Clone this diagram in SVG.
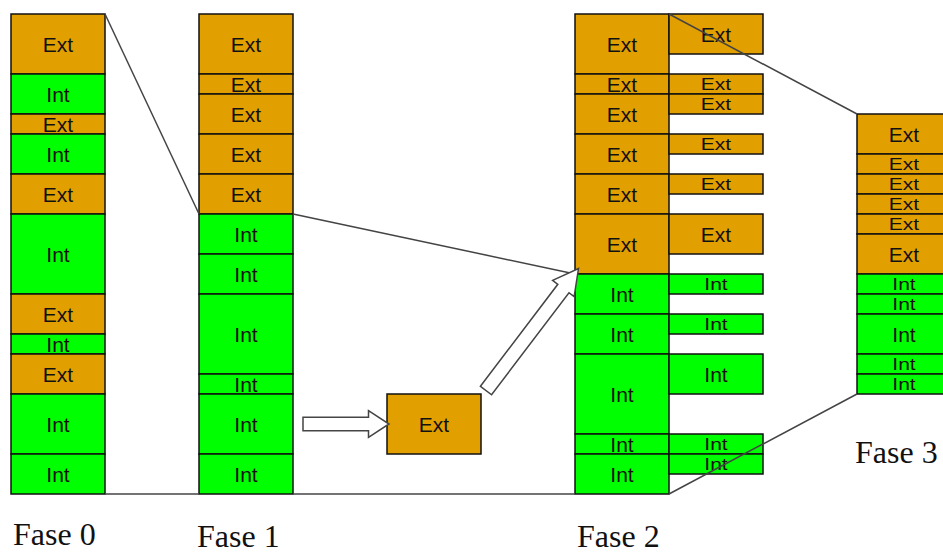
<svg xmlns="http://www.w3.org/2000/svg" width="943" height="554" viewBox="0 0 943 554">
  <style>
    .ext { fill: #E1A000; stroke: #111; stroke-width: 1.5; }
    .int { fill: #00FF00; stroke: #111; stroke-width: 1.5; }
    .lbl { font-family: "Liberation Sans", Arial, sans-serif; font-size: 21px; fill: #111; text-anchor: middle; dominant-baseline: central; }
    .fase { font-family: "Liberation Serif", "Times New Roman", serif; font-size: 32px; fill: #111; }
    .link { stroke: #444; stroke-width: 1.5; fill: none; }
    .block-arrow { fill: #fff; stroke: #444; stroke-width: 1.5; stroke-linejoin: miter; }
  </style>
  <rect width="943" height="554" fill="#fff"/>

  <!-- Fase 0 -->
  <g id="fase0">
    <g id="f0-b1"><rect class="ext" x="11" y="14" width="94" height="60"/><text class="lbl" x="58" y="44">Ext</text></g>
    <g id="f0-b2"><rect class="int" x="11" y="74" width="94" height="40"/><text class="lbl" x="58" y="94">Int</text></g>
    <g id="f0-b3"><rect class="ext" x="11" y="114" width="94" height="20"/><text class="lbl" x="58" y="124">Ext</text></g>
    <g id="f0-b4"><rect class="int" x="11" y="134" width="94" height="40"/><text class="lbl" x="58" y="154">Int</text></g>
    <g id="f0-b5"><rect class="ext" x="11" y="174" width="94" height="40"/><text class="lbl" x="58" y="194">Ext</text></g>
    <g id="f0-b6"><rect class="int" x="11" y="214" width="94" height="80"/><text class="lbl" x="58" y="254">Int</text></g>
    <g id="f0-b7"><rect class="ext" x="11" y="294" width="94" height="40"/><text class="lbl" x="58" y="314">Ext</text></g>
    <g id="f0-b8"><rect class="int" x="11" y="334" width="94" height="20"/><text class="lbl" x="58" y="344">Int</text></g>
    <g id="f0-b9"><rect class="ext" x="11" y="354" width="94" height="40"/><text class="lbl" x="58" y="374">Ext</text></g>
    <g id="f0-b10"><rect class="int" x="11" y="394" width="94" height="60"/><text class="lbl" x="58" y="424">Int</text></g>
    <g id="f0-b11"><rect class="int" x="11" y="454" width="94" height="40"/><text class="lbl" x="58" y="474">Int</text></g>
  </g>

  <!-- Fase 1 -->
  <g id="fase1">
    <g id="f1-b1"><rect class="ext" x="199" y="14" width="94" height="60"/><text class="lbl" x="246" y="44">Ext</text></g>
    <g id="f1-b2"><rect class="ext" x="199" y="74" width="94" height="20"/><text class="lbl" x="246" y="84">Ext</text></g>
    <g id="f1-b3"><rect class="ext" x="199" y="94" width="94" height="40"/><text class="lbl" x="246" y="114">Ext</text></g>
    <g id="f1-b4"><rect class="ext" x="199" y="134" width="94" height="40"/><text class="lbl" x="246" y="154">Ext</text></g>
    <g id="f1-b5"><rect class="ext" x="199" y="174" width="94" height="40"/><text class="lbl" x="246" y="194">Ext</text></g>
    <g id="f1-b6"><rect class="int" x="199" y="214" width="94" height="40"/><text class="lbl" x="246" y="234">Int</text></g>
    <g id="f1-b7"><rect class="int" x="199" y="254" width="94" height="40"/><text class="lbl" x="246" y="274">Int</text></g>
    <g id="f1-b8"><rect class="int" x="199" y="294" width="94" height="80"/><text class="lbl" x="246" y="334">Int</text></g>
    <g id="f1-b9"><rect class="int" x="199" y="374" width="94" height="20"/><text class="lbl" x="246" y="384">Int</text></g>
    <g id="f1-b10"><rect class="int" x="199" y="394" width="94" height="60"/><text class="lbl" x="246" y="424">Int</text></g>
    <g id="f1-b11"><rect class="int" x="199" y="454" width="94" height="40"/><text class="lbl" x="246" y="474">Int</text></g>
  </g>

  <!-- Extracted block -->
  <g id="moved-ext"><rect class="ext" x="387" y="394" width="94" height="60"/><text class="lbl" x="434" y="424">Ext</text></g>

  <!-- Fase 2: main column -->
  <g id="fase2">
    <g id="f2-b1"><rect class="ext" x="575" y="14" width="94" height="60"/><text class="lbl" x="622" y="44">Ext</text></g>
    <g id="f2-b2"><rect class="ext" x="575" y="74" width="94" height="20"/><text class="lbl" x="622" y="84">Ext</text></g>
    <g id="f2-b3"><rect class="ext" x="575" y="94" width="94" height="40"/><text class="lbl" x="622" y="114">Ext</text></g>
    <g id="f2-b4"><rect class="ext" x="575" y="134" width="94" height="40"/><text class="lbl" x="622" y="154">Ext</text></g>
    <g id="f2-b5"><rect class="ext" x="575" y="174" width="94" height="40"/><text class="lbl" x="622" y="194">Ext</text></g>
    <g id="f2-b6"><rect class="ext" x="575" y="214" width="94" height="60"/><text class="lbl" x="622" y="244">Ext</text></g>
    <g id="f2-b7"><rect class="int" x="575" y="274" width="94" height="40"/><text class="lbl" x="622" y="294">Int</text></g>
    <g id="f2-b8"><rect class="int" x="575" y="314" width="94" height="40"/><text class="lbl" x="622" y="334">Int</text></g>
    <g id="f2-b9"><rect class="int" x="575" y="354" width="94" height="80"/><text class="lbl" x="622" y="394">Int</text></g>
    <g id="f2-b10"><rect class="int" x="575" y="434" width="94" height="20"/><text class="lbl" x="622" y="444">Int</text></g>
    <g id="f2-b11"><rect class="int" x="575" y="454" width="94" height="40"/><text class="lbl" x="622" y="474">Int</text></g>
  </g>

  <!-- Fase 2: side column (thin labels squeezed vertically) -->
  <g id="fase2-side">
    <g id="f2s-b1"><rect class="ext" x="669" y="14" width="94" height="40"/><text class="lbl" x="716" y="34">Ext</text></g>
    <g id="f2s-b2"><rect class="ext" x="669" y="74" width="94" height="20"/><text class="lbl" transform="translate(716,84) scale(1,0.8)">Ext</text></g>
    <g id="f2s-b3"><rect class="ext" x="669" y="94" width="94" height="20"/><text class="lbl" transform="translate(716,104) scale(1,0.8)">Ext</text></g>
    <g id="f2s-b4"><rect class="ext" x="669" y="134" width="94" height="20"/><text class="lbl" transform="translate(716,144) scale(1,0.8)">Ext</text></g>
    <g id="f2s-b5"><rect class="ext" x="669" y="174" width="94" height="20"/><text class="lbl" transform="translate(716,184) scale(1,0.8)">Ext</text></g>
    <g id="f2s-b6"><rect class="ext" x="669" y="214" width="94" height="40"/><text class="lbl" x="716" y="234">Ext</text></g>
    <g id="f2s-b7"><rect class="int" x="669" y="274" width="94" height="20"/><text class="lbl" transform="translate(716,284) scale(1,0.8)">Int</text></g>
    <g id="f2s-b8"><rect class="int" x="669" y="314" width="94" height="20"/><text class="lbl" transform="translate(716,324) scale(1,0.8)">Int</text></g>
    <g id="f2s-b9"><rect class="int" x="669" y="354" width="94" height="40"/><text class="lbl" x="716" y="374">Int</text></g>
    <g id="f2s-b10"><rect class="int" x="669" y="434" width="94" height="20"/><text class="lbl" transform="translate(716,444) scale(1,0.8)">Int</text></g>
    <g id="f2s-b11"><rect class="int" x="669" y="454" width="94" height="20"/><text class="lbl" transform="translate(716,464) scale(1,0.8)">Int</text></g>
  </g>

  <!-- Fase 3 (thin labels squeezed vertically) -->
  <g id="fase3">
    <g id="f3-b1"><rect class="ext" x="857" y="114" width="94" height="40"/><text class="lbl" x="904" y="134">Ext</text></g>
    <g id="f3-b2"><rect class="ext" x="857" y="154" width="94" height="20"/><text class="lbl" transform="translate(904,164) scale(1,0.8)">Ext</text></g>
    <g id="f3-b3"><rect class="ext" x="857" y="174" width="94" height="20"/><text class="lbl" transform="translate(904,184) scale(1,0.8)">Ext</text></g>
    <g id="f3-b4"><rect class="ext" x="857" y="194" width="94" height="20"/><text class="lbl" transform="translate(904,204) scale(1,0.8)">Ext</text></g>
    <g id="f3-b5"><rect class="ext" x="857" y="214" width="94" height="20"/><text class="lbl" transform="translate(904,224) scale(1,0.8)">Ext</text></g>
    <g id="f3-b6"><rect class="ext" x="857" y="234" width="94" height="40"/><text class="lbl" x="904" y="254">Ext</text></g>
    <g id="f3-b7"><rect class="int" x="857" y="274" width="94" height="20"/><text class="lbl" transform="translate(904,284) scale(1,0.8)">Int</text></g>
    <g id="f3-b8"><rect class="int" x="857" y="294" width="94" height="20"/><text class="lbl" transform="translate(904,304) scale(1,0.8)">Int</text></g>
    <g id="f3-b9"><rect class="int" x="857" y="314" width="94" height="40"/><text class="lbl" x="904" y="334">Int</text></g>
    <g id="f3-b10"><rect class="int" x="857" y="354" width="94" height="20"/><text class="lbl" transform="translate(904,364) scale(1,0.8)">Int</text></g>
    <g id="f3-b11"><rect class="int" x="857" y="374" width="94" height="20"/><text class="lbl" transform="translate(904,384) scale(1,0.8)">Int</text></g>
  </g>

  <!-- Connectors between phases -->
  <g id="connectors">
    <line class="link" x1="105" y1="14" x2="199" y2="214"/>
    <line class="link" x1="105" y1="494" x2="199" y2="494"/>
    <line class="link" x1="293" y1="214" x2="575" y2="274"/>
    <line class="link" x1="293" y1="494" x2="575" y2="494"/>
    <line class="link" x1="669" y1="14" x2="857" y2="114"/>
    <line class="link" x1="669" y1="494" x2="857" y2="394"/>
    <!-- block arrows: extraction and reinsertion -->
    <polygon class="block-arrow" transform="translate(303,424)" points="0,-6.7 65.5,-6.7 65.5,-13.3 86,0 65.5,13.3 65.5,6.7 0,6.7"/>
    <polygon class="block-arrow" transform="translate(486,390.5) rotate(-52.8)" points="0,-7 128,-7 128,-13.5 153,0 128,13.5 128,7 0,7"/>
  </g>

  <!-- Phase captions -->
  <g id="captions">
    <text class="fase" x="13" y="545">Fase 0</text>
    <text class="fase" x="197" y="547">Fase 1</text>
    <text class="fase" x="577" y="547">Fase 2</text>
    <text class="fase" x="855" y="463">Fase 3</text>
  </g>
</svg>
